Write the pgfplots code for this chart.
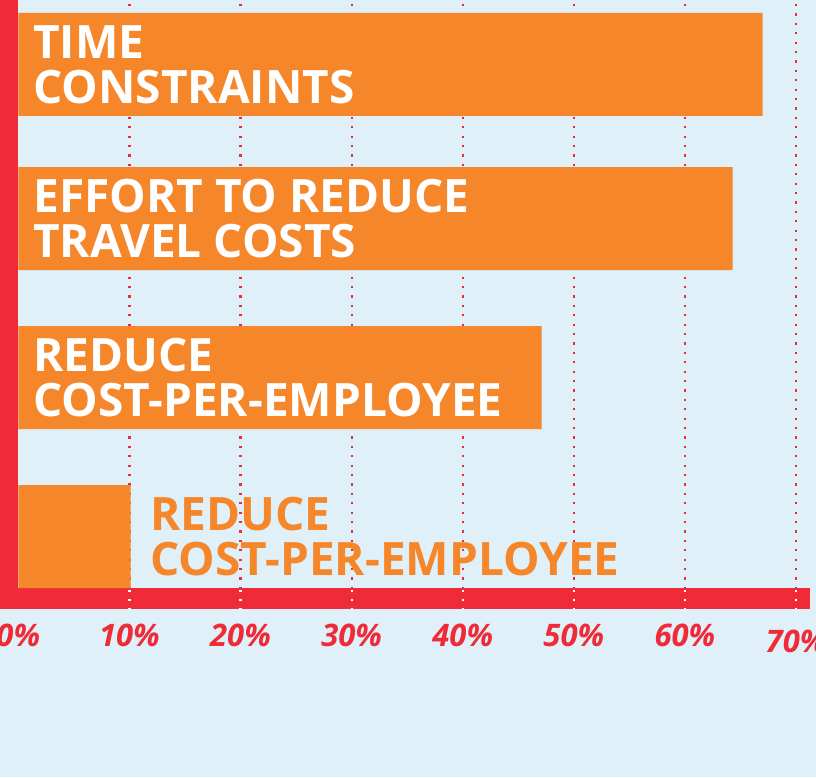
\documentclass[border=0pt]{standalone}
\usepackage{pgfplots}
\pgfplotsset{compat=1.18}
\usepackage{fontspec}
\setmainfont{Open Sans}
\definecolor{bg}{RGB}{223,240,249}
\definecolor{axred}{RGB}{238,43,54}
\definecolor{barorange}{RGB}{245,134,42}
\begin{document}
\begin{tikzpicture}[x=1pt,y=1pt]
\begin{axis}[
  name=ax,
  scale only axis,
  width=408pt, height=304pt,
  xmin=-1.647, xmax=71.80,
  ymin=169, ymax=777,
  axis x line=bottom,
  axis y line=none,
  axis on top,
  x axis line style={draw=none,-},
  clip=false,
  xtick={0,10,20,30,40,50,60,70},
  ytick=\empty,
  xticklabels={0\%,10\%,20\%,30\%,40\%,50\%,60\%,\raisebox{-3pt}{70\%}},
  xticklabel style={font=\fontsize{15.5}{15.5}\selectfont\bfseries\itshape, text=axred, text height=11.2pt, text depth=0pt, anchor=north, yshift=-4.5pt},
  major tick length=0pt,
  tick style={draw=none},
]
% background
\fill[bg] (axis cs:-1.647,0) rectangle (axis cs:71.80,777);
% red dotted grid lines
\pgfplotsinvokeforeach{10,20,30,40,50,60,70}{
  \draw[axred, line width=1.1pt, dash pattern=on 1.1pt off 3.6pt, dash phase=-2pt] (axis cs:#1,777) -- (axis cs:#1,189);
}
% axis bars
\fill[axred] (axis cs:-1.7,168) rectangle (axis cs:-0.05,777);
\fill[axred] (axis cs:-1.7,168) rectangle (axis cs:71.26,189);
\pgfplotsinvokeforeach{10,20,30,40,50,60,70}{
  \draw[white, line width=1.1pt, dash pattern=on 1.1pt off 3.6pt, dash phase=-0.8pt] (axis cs:#1,189) -- (axis cs:#1,168);
}
% bars
\addplot[xbar, fill=barorange, draw=none, bar width=103] coordinates {
  (67.0,712.5) (64.3,558.5) (47.1,399.5) (10.1,240.5)
};
% labels
\node[anchor=west, align=left, text=white, font=\fontsize{23}{22.5}\selectfont\bfseries, inner sep=0pt] at (axis cs:1.32,712.5) {TIME\\CONSTRAINTS};
\node[anchor=west, align=left, text=white, font=\fontsize{23}{22.5}\selectfont\bfseries, inner sep=0pt] at (axis cs:1.32,558.5) {EFFORT TO REDUCE\\TRAVEL COSTS};
\node[anchor=west, align=left, text=white, font=\fontsize{23}{22.5}\selectfont\bfseries, inner sep=0pt] at (axis cs:1.32,399.5) {REDUCE\\COST-PER-EMPLOYEE};
\node[anchor=west, align=left, text=barorange, font=\fontsize{23}{22.5}\selectfont\bfseries, inner sep=0pt] at (axis cs:11.85,240.5) {REDUCE\\COST-PER-EMPLOYEE};
\end{axis}
\pgfresetboundingbox
\path[use as bounding box] ([yshift=-84.5pt]ax.south west) rectangle (ax.north east);
\end{tikzpicture}
\end{document}
